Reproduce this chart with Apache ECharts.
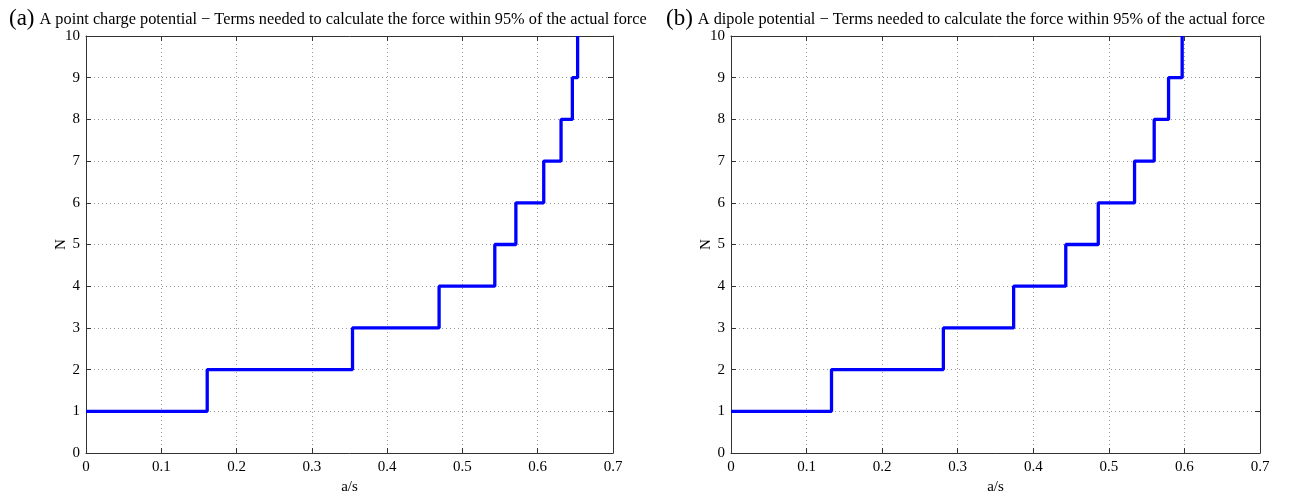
<!DOCTYPE html>
<html>
<head>
<meta charset="utf-8">
<script src="https://cdn.jsdelivr.net/npm/echarts@6/dist/echarts.min.js"></script>
<style>html,body{margin:0;padding:0;background:#fff;}#c{width:1293px;height:496px;}</style>
</head>
<body>
<div id="c"></div>
<script>
// Data
const levelsN = [1, 2, 3, 4, 5, 6, 7, 8, 9, 10];
// a/s value at which N steps up to the next level
const stepsPointCharge = [0, 0.161, 0.354, 0.469, 0.543, 0.571, 0.608, 0.631, 0.646, 0.653];
const stepsDipole      = [0, 0.133, 0.281, 0.374, 0.443, 0.486, 0.534, 0.560, 0.579, 0.597];
const titleA = 'A point charge potential \u2212 Terms needed to calculate the force within 95% of the actual force';
const titleB = 'A dipole potential \u2212 Terms needed to calculate the force within 95% of the actual force';
const xLabel = 'a/s';
const yLabel = 'N';

const FONT = '"Liberation Serif", "DejaVu Serif", serif';
const AX = '#333';

function pts(xs) { return xs.map((x, i) => [x, levelsN[i]]); }

function xAxes(gi) {
  const base = {
    type: 'value', gridIndex: gi, min: 0, max: 0.7, interval: 0.1,
    axisLine: { show: true, onZero: false, lineStyle: { color: AX, width: 1 } },
    axisTick: { show: true, inside: true, length: 5, lineStyle: { color: AX } },
  };
  return [
    Object.assign({}, base, {
      position: 'bottom',
      name: xLabel, nameLocation: 'middle', nameGap: 27,
      nameTextStyle: { fontFamily: FONT, fontSize: 15, color: '#000' },
      axisLabel: { fontFamily: FONT, fontSize: 15, color: '#000', margin: 7,
        formatter: v => String(Math.round(v * 10) / 10) },
      splitLine: { show: true, lineStyle: { color: '#999', type: [1, 3], width: 1 } }
    }),
    Object.assign({}, base, {
      position: 'top', axisLabel: { show: false }, splitLine: { show: false }
    })
  ];
}
function yAxes(gi) {
  const base = {
    type: 'value', gridIndex: gi, min: 0, max: 10, interval: 1,
    axisLine: { show: true, onZero: false, lineStyle: { color: AX, width: 1 } },
    axisTick: { show: true, inside: true, length: 5, lineStyle: { color: AX } },
  };
  return [
    Object.assign({}, base, {
      position: 'left',
      name: yLabel, nameLocation: 'middle', nameGap: 17, nameMoveOverlap: false,
      nameTextStyle: { fontFamily: FONT, fontSize: 15, color: '#000' },
      axisLabel: { fontFamily: FONT, fontSize: 15, color: '#000', margin: 6 },
      splitLine: { show: true, lineStyle: { color: '#999', type: [1, 3], width: 1 } }
    }),
    Object.assign({}, base, {
      position: 'right', axisLabel: { show: false }, splitLine: { show: false }
    })
  ];
}

const richTitle = {
  p: { fontFamily: FONT, fontSize: 23, fontWeight: 'normal', color: '#000' },
  t: { fontFamily: FONT, fontSize: 16.3, fontWeight: 'normal', color: '#000', padding: [3, 0, 0, 0] }
};

const chart = echarts.init(document.getElementById('c'), null, { renderer: 'canvas' });
chart.setOption({
  backgroundColor: '#fff',
  animation: false,
  title: [
    { text: '{p|(a)} {t|' + titleA + '}', left: 4, top: 2,
      textStyle: { fontWeight: 'normal', rich: richTitle } },
    { text: '{p|(b)} {t|' + titleB + '}', left: 661, top: 2,
      textStyle: { fontWeight: 'normal', rich: richTitle } }
  ],
  grid: [
    { left: 86, top: 36, width: 527, height: 417, outerBoundsMode: 'none' },
    { left: 731, top: 36, width: 529, height: 417, outerBoundsMode: 'none' }
  ],
  xAxis: [...xAxes(0), ...xAxes(1)],
  yAxis: [...yAxes(0), ...yAxes(1)],
  series: [
    { type: 'line', xAxisIndex: 0, yAxisIndex: 0, step: 'end', data: pts(stepsPointCharge),
      showSymbol: false, symbol: 'none', lineStyle: { color: '#0000ff', width: 3.3 } },
    { type: 'line', xAxisIndex: 2, yAxisIndex: 2, step: 'end', data: pts(stepsDipole),
      showSymbol: false, symbol: 'none', lineStyle: { color: '#0000ff', width: 3.3 } }
  ]
});
</script>
</body>
</html>
